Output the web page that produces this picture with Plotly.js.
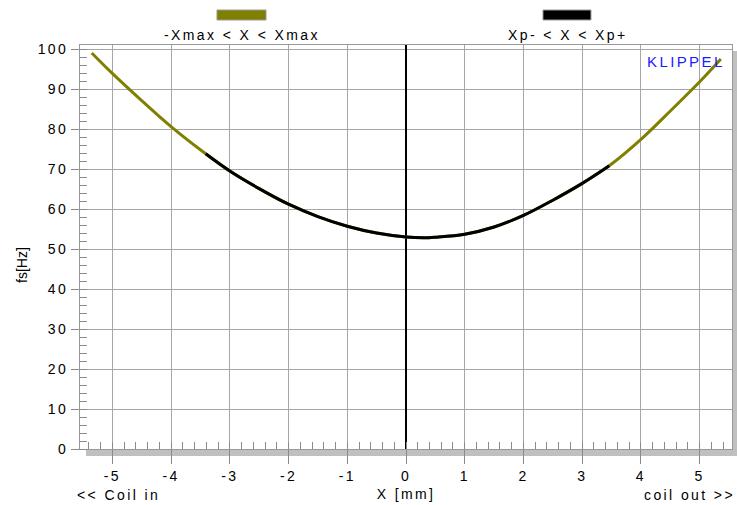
<!DOCTYPE html>
<html>
<head>
<meta charset="utf-8">
<script src="https://cdn.plot.ly/plotly-3.0.1.min.js"></script>
<style>
html,body{margin:0;padding:0;background:#fff;}
#chart{width:737px;height:505px;}
.xtick text, .ytick text, .g-xtitle text, .annotation-text { letter-spacing: 2.4px; }
.annotation[data-index="5"] .annotation-text { letter-spacing: 0; }
</style>
</head>
<body>
<div id="chart"></div>
<script>
// Full measured range (-Xmax < X < Xmax)
const xAll  = [-5.35, -5, -4.5, -4, -3.41, -3, -2.5, -2, -1.5, -1, -0.5, 0, 0.3, 0.5, 1, 1.5, 2, 2.5, 3, 3.46, 4, 4.5, 5, 5.36];
const fsAll = [99.0, 93.9, 87.1, 80.6, 73.8, 69.5, 65.1, 61.2, 58.1, 55.7, 54.0, 53.0, 52.8, 52.95, 53.7, 55.5, 58.4, 62.2, 66.4, 70.8, 77.4, 84.5, 91.8, 97.5];
// Protected range (Xp- < X < Xp+)
const xIn  = [-3.41, -3, -2.5, -2, -1.5, -1, -0.5, 0, 0.3, 0.5, 1, 1.5, 2, 2.5, 3, 3.46];
const fsIn = [73.8, 69.5, 65.1, 61.2, 58.1, 55.7, 54.0, 53.0, 52.8, 52.95, 53.7, 55.5, 58.4, 62.2, 66.4, 70.8];

const seriesNames = ['-Xmax < X < Xmax', 'Xp- < X < Xp+'];
const seriesColors = ['#808000', '#000000'];
const xTicks = [-5, -4, -3, -2, -1, 0, 1, 2, 3, 4, 5];
const yTicks = [0, 10, 20, 30, 40, 50, 60, 70, 80, 90, 100];

const FONT = 'Liberation Sans, Arial, sans-serif';
const grid = '#a6a6a6';
const TXT = '#000';

const traces = [
  {x: xAll, y: fsAll, type: 'scatter', mode: 'lines', name: seriesNames[0],
   line: {color: seriesColors[0], width: 3, shape: 'spline', smoothing: 1}, hoverinfo: 'skip'},
  {x: xIn, y: fsIn, type: 'scatter', mode: 'lines', name: seriesNames[1],
   line: {color: seriesColors[1], width: 3, shape: 'spline', smoothing: 1}, hoverinfo: 'skip'}
];

const layout = {
  width: 737, height: 505,
  margin: {l: 80, r: 5, t: 45, b: 56},
  paper_bgcolor: '#ffffff',
  plot_bgcolor: 'rgba(0,0,0,0)',
  showlegend: false,
  font: {family: FONT, size: 14, color: TXT},
  xaxis: {
    range: [-5.55, 5.55], tickvals: xTicks, ticktext: xTicks.map(String),
    ticks: 'outside', ticklen: 14, tickcolor: '#8a8a8a', tickwidth: 1,
    showgrid: true, gridcolor: grid, gridwidth: 1,
    zeroline: true, zerolinecolor: '#000', zerolinewidth: 2,
    showline: true, linecolor: '#999', linewidth: 1, mirror: true,
    minor: {dtick: 0.2, ticks: 'inside', ticklen: 7, tickcolor: '#8a8a8a', showgrid: false},
    tickfont: {family: FONT, size: 14, color: TXT},
    title: {text: 'X [mm]', font: {family: FONT, size: 14, color: TXT}, standoff: 6},
    automargin: false, fixedrange: true
  },
  yaxis: {
    range: [0, 101], tickvals: yTicks, ticktext: yTicks.map(String),
    ticks: 'outside', ticklen: 8, tickcolor: '#8a8a8a', tickwidth: 1,
    showgrid: true, gridcolor: grid, gridwidth: 1,
    zeroline: false,
    showline: true, linecolor: '#999', linewidth: 1, mirror: true,
    minor: {dtick: 2, ticks: 'inside', ticklen: 7, tickcolor: '#8a8a8a', showgrid: false},
    tickfont: {family: FONT, size: 14, color: TXT},
    automargin: false, fixedrange: true
  },
  shapes: [
    // drop shadow of the plot frame
    {type: 'rect', xref: 'paper', yref: 'paper', x0: 0.0092, x1: 1.0084, y0: -0.0175, y1: 0.985,
     fillcolor: '#c0c0c0', line: {width: 0}, layer: 'below'},
    // white plot area over the shadow
    {type: 'rect', xref: 'paper', yref: 'paper', x0: 0, x1: 1, y0: 0, y1: 1,
     fillcolor: '#ffffff', line: {width: 0}, layer: 'below'},
    // legend swatches
    {type: 'rect', xref: 'paper', yref: 'paper', x0: 0.2101, x1: 0.2853, y0: 1.0619, y1: 1.0866,
     fillcolor: seriesColors[0], line: {color: '#999', width: 1}},
    {type: 'rect', xref: 'paper', yref: 'paper', x0: 0.7101, x1: 0.7837, y0: 1.0619, y1: 1.0866,
     fillcolor: seriesColors[1], line: {color: '#999', width: 1}}
  ],
  annotations: [
    {text: seriesNames[0], xref: 'paper', yref: 'paper', x: 0.2485, y: 1.0248,
     xanchor: 'center', yanchor: 'middle', showarrow: false, font: {family: FONT, size: 14, color: TXT}},
    {text: seriesNames[1], xref: 'paper', yref: 'paper', x: 0.7485, y: 1.0248,
     xanchor: 'center', yanchor: 'middle', showarrow: false, font: {family: FONT, size: 14, color: TXT}},
    {text: 'KLIPPEL', xref: 'paper', yref: 'paper', x: 0.866, y: 0.959,
     xanchor: 'left', yanchor: 'middle', showarrow: false, font: {family: FONT, size: 15, color: '#1a1aff'}},
    {text: '<< Coil in', xref: 'paper', yref: 'paper', x: -0.0077, y: -0.113,
     xanchor: 'left', yanchor: 'middle', showarrow: false, font: {family: FONT, size: 14, color: TXT}},
    {text: 'coil out >>', xref: 'paper', yref: 'paper', x: 1.0077, y: -0.113,
     xanchor: 'right', yanchor: 'middle', showarrow: false, font: {family: FONT, size: 14, color: TXT}},
    {text: 'fs[Hz]', xref: 'paper', yref: 'paper', x: -0.089, y: 0.455, textangle: -90,
     xanchor: 'center', yanchor: 'middle', showarrow: false, font: {family: FONT, size: 14, color: TXT}}
  ]
};

Plotly.newPlot('chart', traces, layout, {staticPlot: true, displayModeBar: false});
</script>
</body>
</html>
